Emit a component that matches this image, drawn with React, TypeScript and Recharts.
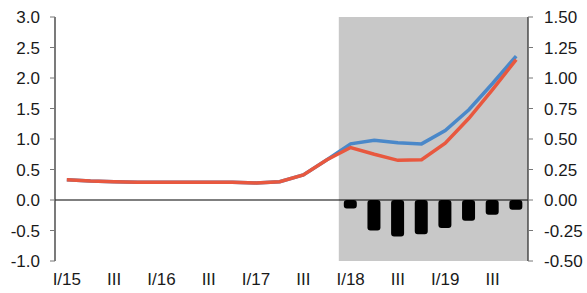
import React from 'react';
import { ComposedChart, Line, Bar, XAxis, YAxis, ReferenceLine, ReferenceArea } from 'recharts';

const categories = [
  'I/15', 'II/15', 'III/15', 'IV/15',
  'I/16', 'II/16', 'III/16', 'IV/16',
  'I/17', 'II/17', 'III/17', 'IV/17',
  'I/18', 'II/18', 'III/18', 'IV/18',
  'I/19', 'II/19', 'III/19', 'IV/19',
];
const blueSeries = [0.33, 0.31, 0.30, 0.29, 0.29, 0.29, 0.29, 0.29, 0.28, 0.30, 0.41, 0.66, 0.92, 0.98, 0.94, 0.92, 1.14, 1.48, 1.91, 2.36];
const redSeries = [0.33, 0.31, 0.30, 0.29, 0.29, 0.29, 0.29, 0.29, 0.28, 0.30, 0.41, 0.66, 0.86, 0.75, 0.65, 0.66, 0.93, 1.34, 1.81, 2.30];
const barSeries: (number | null)[] = [null, null, null, null, null, null, null, null, null, null, null, null, -0.07, -0.25, -0.30, -0.28, -0.23, -0.17, -0.12, -0.08];
const leftTicks = [-1, -0.5, 0, 0.5, 1, 1.5, 2, 2.5, 3];
const rightTicks = [-0.5, -0.25, 0, 0.25, 0.5, 0.75, 1, 1.25, 1.5];
const shadeStart = 'I/18';
const shadeEnd = 'IV/19';

const data = categories.map((c, i) => ({
  cat: c,
  blue: blueSeries[i],
  red: redSeries[i],
  bar: barSeries[i],
}));

const xLabel = (v: string) => {
  const [q, y] = v.split('/');
  if (q === 'I') return `I/${y}`;
  if (q === 'III') return 'III';
  return '';
};

const FONT = '"Liberation Sans", Arial, sans-serif';
const tickStyle = { fontSize: 17, fill: '#1a1a1a', fontFamily: FONT };

export default function App() {
  return (
    <div style={{ position: 'absolute', left: 0, top: 0, width: 587, height: 293, background: '#fff' }}>
      <ComposedChart
        width={587}
        height={293}
        data={data}
        margin={{ top: 17, right: 0, bottom: 0, left: 0 }}
        barCategoryGap={0}
      >
        <ReferenceArea
          x1={shadeStart}
          x2={shadeEnd}
          yAxisId="left"
          fill="#c8c8c8"
          fillOpacity={1}
          stroke="none"
          ifOverflow="visible"
        />
        <XAxis
          dataKey="cat"
          interval={0}
          tickFormatter={xLabel}
          axisLine={false}
          tickLine={false}
          tickSize={0}
          tickMargin={12}
          height={32}
          tick={tickStyle}
        />
        <YAxis
          yAxisId="left"
          orientation="left"
          domain={[-1, 3]}
          ticks={leftTicks}
          tickFormatter={(v: number) => v.toFixed(1)}
          width={55}
          tickSize={5}
          tickMargin={10}
          axisLine={{ stroke: '#333', strokeWidth: 1.3 }}
          tickLine={{ stroke: '#777' }}
          tick={tickStyle}
          interval={0}
        />
        <YAxis
          yAxisId="right"
          orientation="right"
          domain={[-0.5, 1.5]}
          ticks={rightTicks}
          tickFormatter={(v: number) => v.toFixed(2)}
          width={59}
          tickSize={5}
          tickMargin={11}
          axisLine={{ stroke: '#333', strokeWidth: 1.3 }}
          tickLine={{ stroke: '#777' }}
          tick={tickStyle}
          interval={0}
        />
        <ReferenceLine y={0} yAxisId="left" stroke="#000" strokeWidth={1.2} />
        <Bar
          dataKey="bar"
          yAxisId="right"
          fill="#000"
          barSize={13}
          radius={3}
          isAnimationActive={false}
        />
        <Line
          dataKey="blue"
          yAxisId="left"
          stroke="#4a88c9"
          strokeWidth={3.5}
          dot={false}
          activeDot={false}
          isAnimationActive={false}
        />
        <Line
          dataKey="red"
          yAxisId="left"
          stroke="#e8583f"
          strokeWidth={3.5}
          dot={false}
          activeDot={false}
          isAnimationActive={false}
        />
      </ComposedChart>
    </div>
  );
}
